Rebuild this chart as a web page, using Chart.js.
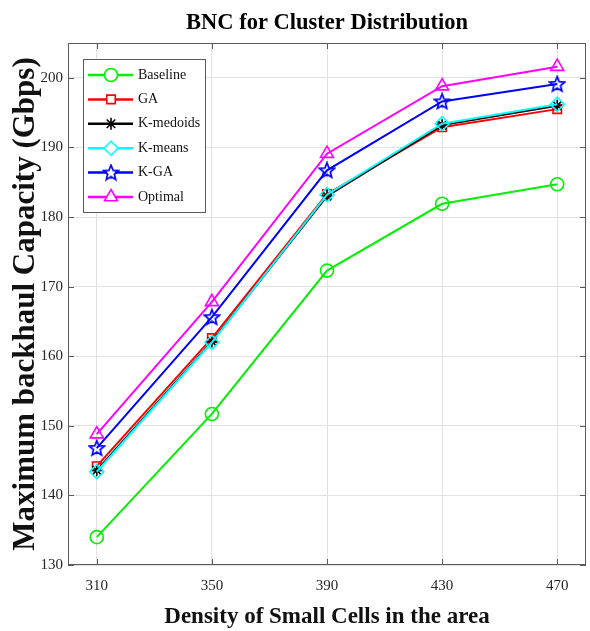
<!DOCTYPE html>
<html>
<head>
<meta charset="utf-8">
<script src="https://cdn.jsdelivr.net/npm/chart.js@4.4.1/dist/chart.umd.min.js"></script>
<style>
  html, body { margin: 0; padding: 0; background: #fff; }
  #wrap { width: 590px; height: 631px; }
</style>
</head>
<body>
<div id="wrap"><canvas id="bnc" width="590" height="631"></canvas></div>
<script>
// values
const xCats = [310, 350, 390, 430, 470];
const yTicks = [130, 140, 150, 160, 170, 180, 190, 200];
const baseline = [134.0, 151.7, 172.3, 181.9, 184.7];
const ga = [144.2, 162.6, 183.3, 192.9, 195.5];
const kMedoids = [143.6, 162.1, 183.0, 193.2, 196.0];
const kMeans = [143.4, 162.0, 183.2, 193.4, 196.2];
const kGa = [146.8, 165.6, 186.7, 196.6, 199.1];
const optimal = [148.8, 167.8, 189.1, 198.8, 201.6];

const serif = 'Liberation Serif';

// matlab-like pentagram marker (outline)
function starImage(color) {
    const c = document.createElement('canvas');
    c.width = 18; c.height = 18;
    const g = c.getContext('2d');
    g.strokeStyle = color;
    g.lineWidth = 1.7;
    g.beginPath();
    for (let i = 0; i < 10; i++) {
        const r = i % 2 ? 3.5 : 8;
        const a = -Math.PI / 2 + i * Math.PI / 5;
        const px = 9 + r * Math.cos(a), py = 9.5 + r * Math.sin(a);
        if (i === 0) g.moveTo(px, py); else g.lineTo(px, py);
    }
    g.closePath();
    g.stroke();
    return c;
}

function series(label, values, color, style, radius, order) {
    return {
        label: label,
        data: values.map((v, i) => ({ x: xCats[i], y: v })),
        borderColor: color,
        borderWidth: 2,
        pointStyle: style,
        pointRadius: radius,
        pointBorderColor: color,
        pointBackgroundColor: 'rgba(0,0,0,0)',
        pointBorderWidth: 1.6,
        order: order
    };
}

const datasets = [
    series('Baseline', baseline, '#00f000', 'circle', 6.5, 0),
    series('GA', ga, '#ff0000', 'rect', 6, -1),
    series('K-medoids', kMedoids, '#000000', 'star', 6, -2),
    series('K-means', kMeans, '#00ffff', 'rectRot', 7, -3),
    series('K-GA', kGa, '#0000ff', starImage('#0000ff'), 8, -4),
    series('Optimal', optimal, '#ff00ff', 'triangle', 7.5, -5)
];

// box, inward ticks and the legend inside the axes
const framePlugin = {
    id: 'frame',
    afterDraw(chart) {
        const ctx = chart.ctx;
        const a = chart.chartArea;
        const xs = chart.scales.x, ys = chart.scales.y;
        ctx.save();
        ctx.strokeStyle = '#5a5a5a';
        ctx.lineWidth = 1;
        ctx.strokeRect(a.left + 0.5, a.top + 0.5, a.right - a.left - 1, a.bottom - a.top - 1);
        ctx.beginPath();
        xCats.forEach(v => {
            const px = Math.round(xs.getPixelForValue(v)) + 0.5;
            ctx.moveTo(px, a.bottom); ctx.lineTo(px, a.bottom - 6);
            ctx.moveTo(px, a.top); ctx.lineTo(px, a.top + 6);
        });
        yTicks.forEach(v => {
            const py = Math.round(ys.getPixelForValue(v)) + 0.5;
            ctx.moveTo(a.left, py); ctx.lineTo(a.left + 6, py);
            ctx.moveTo(a.right, py); ctx.lineTo(a.right - 6, py);
        });
        ctx.stroke();

        // legend
        const bx = a.left + 15, by = a.top + 16, bw = 122, bh = 153;
        ctx.fillStyle = '#fff';
        ctx.fillRect(bx, by, bw, bh);
        ctx.strokeStyle = '#5a5a5a';
        ctx.strokeRect(bx + 0.5, by + 0.5, bw, bh);
        ctx.font = '14px "' + serif + '"';
        ctx.textBaseline = 'middle';
        datasets.forEach((d, i) => {
            const ly = by + 16 + i * 24.4;
            ctx.strokeStyle = d.borderColor;
            ctx.lineWidth = 2.5;
            ctx.beginPath();
            ctx.moveTo(bx + 5, ly); ctx.lineTo(bx + 50, ly);
            ctx.stroke();
            ctx.lineWidth = d.pointBorderWidth;
            ctx.fillStyle = '#fff';
            if (typeof d.pointStyle === 'string') {
                Chart.helpers.drawPoint(ctx, { pointStyle: d.pointStyle, radius: d.pointRadius, rotation: 0, borderWidth: d.pointBorderWidth }, bx + 28, ly);
            } else {
                ctx.beginPath();
                ctx.arc(bx + 28, ly, 4, 0, Math.PI * 2);
                ctx.fill();
                ctx.drawImage(d.pointStyle, bx + 28 - 9, ly - 9);
            }
            ctx.fillStyle = '#111';
            ctx.fillText(d.label, bx + 55, ly);
        });
        ctx.restore();
    }
};

new Chart(document.getElementById('bnc').getContext('2d'), {
    type: 'line',
    data: { datasets: datasets },
    plugins: [framePlugin],
    options: {
        responsive: false,
        animation: false,
        layout: { autoPadding: false, padding: { top: 0, right: 4, bottom: 0, left: 0 } },
        plugins: {
            legend: { display: false },
            tooltip: { enabled: false },
            title: {
                display: true,
                text: 'BNC for Cluster Distribution',
                fullSize: false,
                color: '#000',
                font: { family: serif, size: 22.5, weight: 'bold' },
                padding: { top: 10, bottom: 6 }
            }
        },
        scales: {
            x: {
                type: 'linear',
                min: 300,
                max: 480,
                afterBuildTicks: s => { s.ticks = xCats.map(v => ({ value: v })); },
                afterFit: s => { s.height = 66; s.paddingLeft = 0; s.paddingRight = 0; },
                grid: { color: '#e2e2e2', drawTicks: false },
                border: { display: false },
                ticks: { padding: 12, color: '#262626', font: { family: serif, size: 15 } },
                title: {
                    display: true,
                    text: 'Density of Small Cells in the area',
                    color: '#111',
                    font: { family: serif, size: 23, weight: 'bold' },
                    padding: { top: 0, bottom: 0 }
                }
            },
            y: {
                min: 130,
                max: 205,
                afterBuildTicks: s => { s.ticks = yTicks.map(v => ({ value: v })); },
                afterFit: s => { s.width = 68; s.paddingTop = 0; s.paddingBottom = 0; },
                grid: { color: '#e2e2e2', drawTicks: false },
                border: { display: false },
                ticks: { padding: 5, color: '#262626', font: { family: serif, size: 15 } },
                title: {
                    display: true,
                    text: 'Maximum backhaul Capacity (Gbps)',
                    color: '#111',
                    font: { family: serif, size: 31, weight: 'bold' },
                    padding: { top: 7, bottom: 0 }
                }
            }
        }
    }
});
</script>
</body>
</html>
